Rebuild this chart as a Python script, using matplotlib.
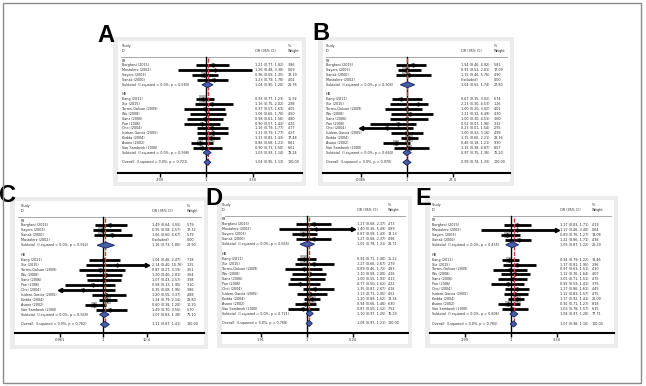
import numpy as np
import matplotlib
matplotlib.use("Agg")
import matplotlib.pyplot as plt
from matplotlib.patches import Rectangle, Polygon
from matplotlib.ticker import FixedLocator, FixedFormatter, NullLocator

# study names (two orders used across panels)
pb_order1 = ["Borghesi (2015)", "Mastalerz (2002)", "Sayers (2003)", "Sanak (2000)"]
pb_order2 = ["Borghesi (2015)", "Sayers (2003)", "Sanak (2000)", "Mastalerz (2002)"]
hb_names = ["Kang (2011)", "Xie (2015)", "Torres-Galvan (2009)", "Wu (2008)", "Sanz (2006)",
            "Pan (2006)", "Choi (2004)", "Isidoro-Garcia (2005)", "Kedda (2004)",
            "Asano (2002)", "Van Sambeek (2000)"]
nan = float("nan")

# panel A
or_A = [1.21, 1.26, 0.96, 1.23, 0.93, 1.16, 0.97, 1.06, 0.98, 0.90, 1.16, 1.21, 1.13, 0.86, 0.90]
lo_A = [0.77, 0.48, 0.69, 0.79, 0.77, 0.75, 0.57, 0.66, 0.61, 0.57, 0.79, 0.79, 0.82, 0.68, 0.71]
hi_A = [1.82, 3.30, 1.35, 1.78, 1.23, 2.02, 1.63, 1.70, 1.56, 1.43, 1.77, 1.77, 1.43, 1.21, 1.50]
w_A = [3.86, 0.69, 13.19, 4.02, 15.92, 2.98, 4.05, 4.50, 4.80, 4.25, 4.77, 4.27, 17.48, 8.61, 6.61]
sub_A = [(1.04, 0.90, 1.20), (1.03, 0.93, 1.14), (1.04, 0.95, 1.13)]
p_A = [0.580, 0.998, 0.721]
ticks_A = [".299", "1", "3.34"]

# panel B
or_B = [1.54, 0.91, 1.15, nan, 0.67, 2.21, 1.00, 1.21, 1.00, 0.52, 0.23, 1.00, 1.15, 0.46, 1.15]
lo_B = [0.46, 0.52, 0.46, nan, 0.35, 0.30, 0.20, 0.32, 0.30, 0.071, 0.012, 0.32, 0.66, 0.18, 0.38]
hi_B = [4.02, 2.81, 5.76, nan, 3.02, 4.53, 3.02, 6.49, 4.53, 1.96, 1.54, 3.16, 2.21, 1.21, 4.87]
w_B = [5.81, 17.09, 4.90, 0.00, 6.74, 1.26, 4.01, 4.30, 3.60, 3.32, 2.95, 4.99, 23.16, 9.30, 8.57]
sub_B = [(1.04, 0.62, 1.74), (0.97, 0.75, 1.36), (0.99, 0.74, 1.33)]
p_B = [0.904, 0.660, 0.970]
ticks_B = [".0365", "1", "27.4"]

# panel C
or_C = [1.49, 0.95, 1.66, nan, 1.04, 2.14, 0.87, 1.20, 1.07, 0.58, 0.35, 1.20, 1.24, 0.60, 1.49]
lo_C = [0.64, 0.58, 0.60, nan, 0.46, 0.40, 0.27, 0.40, 0.43, 0.13, 0.08, 0.55, 0.79, 0.38, 0.70]
hi_C = [3.55, 2.57, 4.67, nan, 2.47, 10.76, 3.19, 2.81, 2.57, 1.95, 1.95, 3.37, 2.14, 1.20, 3.55]
w_C = [5.79, 17.32, 5.79, 0.00, 7.18, 1.25, 3.51, 3.64, 3.98, 3.10, 3.86, 4.88, 23.80, 10.20, 5.70]
sub_C = [(1.16, 0.73, 1.85), (1.07, 0.83, 1.38), (1.11, 0.87, 1.41)]
p_C = [0.562, 0.569, 0.762]
ticks_C = [".0961", "1", "10.4"]

# panel D
or_D = [1.27, 1.40, 0.87, 1.27, 0.91, 1.27, 0.89, 1.10, 1.00, 0.77, 1.35, 1.13, 1.20, 0.94, 0.87]
lo_D = [0.68, 0.36, 0.58, 0.68, 0.71, 0.66, 0.46, 0.58, 0.55, 0.50, 0.87, 0.71, 0.89, 0.66, 0.50]
hi_D = [2.37, 5.49, 1.43, 2.37, 1.40, 2.67, 1.72, 2.00, 1.93, 1.62, 2.67, 2.05, 1.62, 1.40, 1.52]
w_D = [4.73, 0.89, 13.13, 4.96, 15.22, 2.79, 4.83, 4.26, 4.13, 4.22, 4.16, 4.52, 18.34, 6.30, 7.52]
sub_D = [(1.01, 0.78, 1.31), (1.10, 0.97, 1.25), (1.08, 0.97, 1.21)]
p_D = [0.655, 0.721, 0.768]
ticks_D = [".191", "1", "5.24"]

# panel E
or_E = [1.17, 1.17, 0.89, 1.22, 0.94, 1.17, 0.97, 1.12, 1.05, 0.92, 1.17, 1.12, 1.17, 0.92, 1.03]
lo_E = [0.83, 0.46, 0.76, 0.86, 0.79, 0.81, 0.63, 0.76, 0.71, 0.59, 0.86, 0.83, 0.92, 0.71, 0.78]
hi_E = [1.71, 3.40, 1.27, 1.71, 1.22, 1.95, 1.51, 1.64, 1.51, 1.41, 1.61, 1.57, 1.41, 1.27, 1.57]
w_E = [4.19, 0.64, 13.08, 4.38, 13.46, 2.96, 4.10, 4.07, 4.75, 3.75, 4.45, 4.75, 21.09, 8.18, 6.15]
sub_E = [(1.03, 0.87, 1.22), (1.08, 0.97, 1.20), (1.07, 0.98, 1.16)]
p_E = [0.455, 0.806, 0.765]
ticks_E = [".299", "1", "3.34"]

W, H = 646, 386
fig = plt.figure(figsize=(W / 100, H / 100), dpi=100)
fig.patch.set_facecolor("white")

FS = 2.4
TXT = "#2a2a2a"


def fig_rect(x0, y0, x1, y1):
    return [x0 / W, 1 - y1 / H, (x1 - x0) / W, (y1 - y0) / H]


def draw_panel(letter, letter_xy, box, row0, dy, axis_px, null_px, d_px, tick_labels,
               col_px, pb_names, ors, los, his, ws, subs, ps):
    bx0, by0, bx1, by1 = box
    # grey graph region (behind the axes)
    fig.patches.append(Rectangle((bx0 / W, 1 - by1 / H), (bx1 - bx0) / W, (by1 - by0) / H,
                                 transform=fig.transFigure, facecolor="#ececec",
                                 edgecolor="none", zorder=-10))
    ix0, iy0, ix1, iy1 = bx0 + 5, by0 + 4, bx1 - 4, by1 - 4
    ax = fig.add_axes(fig_rect(ix0, iy0, ix1, iy1))
    ax.set_facecolor("white")
    ax.set_zorder(1)

    T = float(tick_labels[2])
    ppd = d_px / np.log10(T)
    px2x = lambda px: 10 ** ((px - null_px) / ppd)
    ax.set_xscale("log")
    ax.set_xlim(px2x(ix0), px2x(ix1))
    ax.set_ylim((iy1 - row0) / dy, (iy0 - row0) / dy)
    axis_row = (axis_px - row0) / dy

    name_x, or_x, w_x = [px2x(p) for p in col_px]
    kw = dict(fontsize=FS, color=TXT, va="center", ha="left")

    # header
    ax.text(name_x, -3.0, "Study", **kw)
    ax.text(name_x, -2.0, "ID", **kw)
    ax.text(or_x, -2.0, "OR (95% CI)", **kw)
    ax.text(w_x, -3.0, "%", **kw)
    ax.text(w_x, -2.0, "Weight", **kw)
    hrow = -0.75
    ax.plot([px2x(ix0 + 3), px2x(ix1 - 3)], [hrow, hrow], color="#9a9a9a", lw=0.6)

    # null line + overall line
    ax.plot([1, 1], [hrow, axis_row], color="black", lw=1.0, zorder=4)
    ov = subs[2][0]
    ax.plot([ov, ov], [hrow + 0.3, 21.5], color="#d23b3b", lw=1.0, ls=(0, (3, 1)), zorder=4)

    groups = [("PB", pb_names, 0, 0), ("HB", hb_names, 7, 4)]
    for gi, (gname, names, start, off) in enumerate(groups):
        ax.text(name_x, start, gname, **kw)
        for j, nm in enumerate(names):
            r = start + 1 + j
            k = off + j
            ax.text(name_x, r, nm, **kw)
            o, lo, hi, w = ors[k], los[k], his[k], ws[k]
            if np.isnan(o):
                ax.text(or_x, r, "(Excluded)", **kw)
                ax.text(w_x, r, "0.00", **kw)
                continue
            ax.text(or_x, r, f"{o:.2f} ({lo:.2f}, {hi:.2f})", **kw)
            ax.text(w_x, r, f"{w:.2f}", **kw)
            ax.scatter([o], [r], marker="s", s=(1.3 * np.sqrt(w)) ** 2,
                       color="#b9b9b9", lw=0, zorder=1)
            lc, hc = max(lo, 1 / T), min(hi, T)
            ax.plot([lc, hc], [r, r], color="black", lw=2.0, solid_capstyle="butt", zorder=2)
            if lo < 1 / T:
                ax.plot([lc], [r], marker="<", ms=3.0, color="black", zorder=2)
            if hi > T:
                ax.plot([hc], [r], marker=">", ms=3.0, color="black", zorder=2)
            ax.plot([o], [r], marker="D", ms=1.6, color="black", zorder=3)
        # subtotal
        est, slo, shi = subs[gi]
        sr = start + len(names) + 1
        ax.text(name_x, sr, f"Subtotal  (I-squared = 0.0%, p = {ps[gi]:.3f})", **kw)
        ax.text(or_x, sr, f"{est:.2f} ({slo:.2f}, {shi:.2f})", **kw)
        sw = sum(v for v in ws[off:off + len(names)])
        ax.text(w_x, sr, f"{sw:.2f}", **kw)
        ax.add_patch(Polygon([(slo, sr), (est, sr - 0.6), (shi, sr), (est, sr + 0.6)],
                             closed=True, facecolor="#4a5ea6", edgecolor="#1b2a6b",
                             lw=0.7, zorder=5))

    est, slo, shi = subs[2]
    ax.text(name_x, 21, f"Overall  (I-squared = 0.0%, p = {ps[2]:.3f})", **kw)
    ax.text(or_x, 21, f"{est:.2f} ({slo:.2f}, {shi:.2f})", **kw)
    ax.text(w_x, 21, "100.00", **kw)
    ax.add_patch(Polygon([(slo, 21), (est, 20.4), (shi, 21), (est, 21.6)],
                         closed=True, facecolor="#4a5ea6", edgecolor="#1b2a6b",
                         lw=0.7, zorder=5))

    # x axis as in Stata: full-width line with three ticks
    for s in ["top", "left", "right"]:
        ax.spines[s].set_visible(False)
    ax.spines["bottom"].set_position(("data", axis_row))
    ax.spines["bottom"].set_linewidth(1.5)
    ax.xaxis.set_major_locator(FixedLocator([1 / T, 1, T]))
    ax.xaxis.set_major_formatter(FixedFormatter(tick_labels))
    ax.xaxis.set_minor_locator(NullLocator())
    ax.tick_params(axis="x", length=3, width=1.0, labelsize=2.6, pad=0.8,
                   labelcolor=TXT, direction="out")
    ax.set_yticks([])

    fig.text(letter_xy[0] / W, 1 - letter_xy[1] / H, letter, fontsize=17,
             fontweight="bold", ha="center", va="center", family="Liberation Sans",
             zorder=20)


draw_panel("A", (106, 36), (113, 37, 306, 186), 60.5, 4.85, 172.5, 206, 46.5, ticks_A,
           (122, 255, 288), pb_order1, or_A, lo_A, hi_A, w_A, sub_A, p_A)
draw_panel("B", (321, 34), (318, 37, 514, 186), 60.5, 4.85, 172.5, 407, 46, ticks_B,
           (326, 461, 494), pb_order2, or_B, lo_B, hi_B, w_B, sub_B, p_B)
draw_panel("C", (8, 196), (10, 197, 208, 349), 220.5, 4.95, 333, 103, 43.5, ticks_C,
           (21, 152, 187), pb_order2, or_C, lo_C, hi_C, w_C, sub_C, p_C)
draw_panel("D", (214, 198), (217, 196, 412, 348), 219.5, 4.95, 333, 307, 46, ticks_D,
           (222, 357, 388), pb_order1, or_D, lo_D, hi_D, w_D, sub_D, p_D)
draw_panel("E", (423, 198), (425, 196, 618, 348), 220, 4.95, 333, 511, 46, ticks_E,
           (432, 560, 592), pb_order1, or_E, lo_E, hi_E, w_E, sub_E, p_E)

# outer frame
fig.patches.append(Rectangle((3 / W, 3 / H), 638 / W, 380 / H, transform=fig.transFigure,
                             fill=False, edgecolor="#8a8a8a", lw=1.0, zorder=30))

fig.savefig("out.png", dpi=100)
